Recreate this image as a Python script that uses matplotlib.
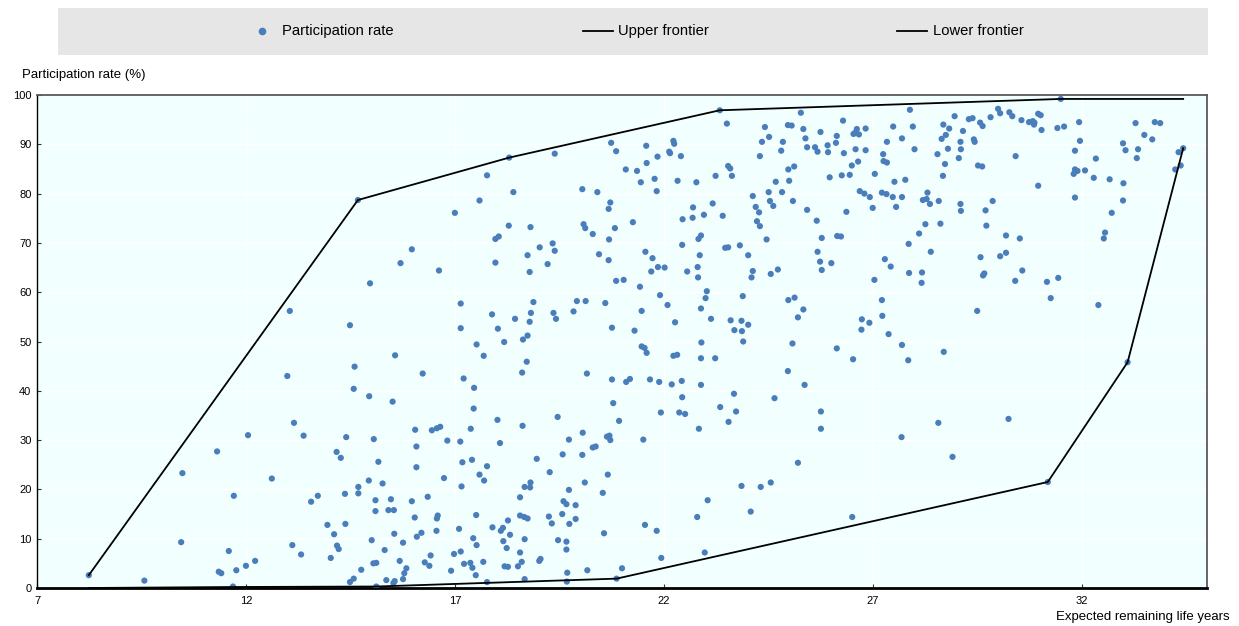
import matplotlib
matplotlib.use("Agg")
import matplotlib.pyplot as plt
from matplotlib.lines import Line2D
from matplotlib.patches import Rectangle

plt.rcParams['font.family'] = ['Liberation Sans', 'DejaVu Sans']

# ---------------- data ----------------
points = [
    (15.97,68.7),(15.70,65.9),(14.97,61.8),(13.05,56.2),(14.49,53.3),(14.68,78.7),
    (18.3,87.3),(19.39,88.1),(20.74,90.3),(20.86,88.6),(21.09,84.9),(17.77,83.7),(18.40,80.3),(20.05,80.9),
    (20.41,80.3),(17.59,78.6),(20.72,78.2),(20.68,76.9),(17.0,76.1),(18.29,73.5),(18.81,73.2),(20.08,73.8),
    (20.12,73.0),(20.83,73.0),(20.30,71.8),(18.05,71.3),(17.97,70.8),(20.69,70.7),(19.34,69.9),(19.03,69.1),
    (19.39,68.4),(18.74,67.5),(20.45,67.7),(20.68,66.5),(17.97,66.0),(19.22,65.7),(18.79,64.1),(16.62,64.4),
    (20.86,62.3),(21.04,62.5),(17.14,57.7),(18.88,58.0),(19.92,58.2),(20.13,58.2),(20.60,57.8),(17.89,55.5),
    (18.82,55.8),(19.36,55.8),(19.84,56.1),(18.44,54.6),(19.42,54.6),(18.79,54.0),(17.14,52.7),(18.03,52.6),
    (20.76,52.8),(18.74,51.2),(18.63,50.4),(18.18,49.9),(17.52,49.4),
    (17.69,47.1),(18.72,45.9),(18.61,43.7),(20.16,43.5),(17.21,42.5),(20.76,42.3),(21.10,41.8),(17.46,40.6),
    (20.79,37.5),(17.45,36.4),(19.46,34.7),(18.02,34.1),(20.93,33.9),(18.62,32.9),(16.45,32.0),(16.57,32.4),
    (16.65,32.7),(17.38,32.3),(20.06,31.5),(19.73,30.1),(20.64,30.7),(20.70,30.9),(20.72,30.0),(16.82,29.9),
    (17.13,29.7),(18.08,29.4),(20.30,28.5),(20.37,28.7),(19.58,27.1),(20.05,27.0),(18.96,26.2),(17.18,25.5),
    (17.41,26.0),(17.77,24.7),(19.27,23.5),(17.59,23.0),(20.66,23.0),(16.74,22.3),(17.70,21.8),(20.11,21.4),
    (17.16,20.6),(18.67,20.5),(18.80,20.4),(18.81,21.4),(19.73,19.9),(20.54,19.3),(16.35,18.5),(18.56,18.4),
    (19.60,17.6),(19.67,17.0),(19.89,16.8),(16.59,14.7),(16.57,14.1),(17.51,14.8),(18.56,14.7),(18.66,14.4),
    (18.74,14.1),(19.25,14.5),(19.57,15.0),(19.32,13.1),(19.89,14.0),(19.74,13.0),(18.27,13.7),(17.90,12.3),
    (18.15,12.2),(18.10,11.6),(18.32,10.8),(17.10,12.0),(16.56,11.6),(20.57,11.1),(17.44,10.1),(18.16,9.5),
    (18.67,9.9),(19.47,9.7),(19.67,9.4),(19.67,7.8),(17.52,8.7),(18.24,8.1),(16.42,6.6),(16.98,6.9),
    (17.14,7.4),(18.56,7.2),(16.39,4.5),(17.22,4.9),(17.37,5.1),(17.42,4.1),(17.68,5.3),(18.19,4.4),
    (18.27,4.3),(18.51,4.4),(18.60,5.3),(19.02,5.5),(19.05,5.9),(16.91,3.5),(17.50,2.6),(17.77,1.2),
    (18.67,1.8),(19.69,3.1),(19.68,1.3),(20.17,3.6),(20.87,1.9),(21.0,4.0),
    (23.34,96.9),(23.51,94.2),(25.28,96.4),(24.42,93.5),(24.97,93.9),(25.06,93.8),(25.34,93.1),(25.75,92.5),
    (24.52,91.5),(25.39,91.2),(22.23,90.7),(22.25,90.1),(24.35,90.5),(24.85,90.5),(21.58,89.7),(25.43,89.4),
    (25.62,89.4),(25.68,88.5),(22.13,88.5),(22.15,88.2),(24.81,88.7),(21.85,87.5),(22.41,87.6),(24.30,87.6),
    (21.59,86.2),(21.36,84.6),(23.54,85.6),(23.59,85.1),(23.63,83.6),(24.98,84.9),(25.12,85.5),(21.78,83.0),
    (21.45,82.3),(22.33,82.6),(22.78,82.3),(23.24,83.6),(24.68,82.4),(25.0,82.6),(21.83,80.5),(24.51,80.3),
    (24.83,80.3),(24.13,79.5),(24.54,78.5),(24.62,77.5),(25.09,78.5),(23.17,78.0),(22.70,77.2),(24.20,77.3),
    (24.28,76.2),(25.43,76.7),(22.96,75.7),(23.41,75.5),(22.45,74.8),(22.69,75.1),(21.26,74.2),(24.23,74.4),
    (24.30,73.4),(25.66,74.5),(22.89,71.5),(22.83,70.8),(24.46,70.7),(25.78,71.0),(22.44,69.6),(23.47,69.0),
    (23.54,69.1),(23.82,69.5),(21.56,68.2),(25.68,68.2),(22.86,67.5),(24.02,67.5),(21.73,66.9),(21.86,65.1),
    (22.02,65.0),(21.70,64.2),(22.56,64.2),(22.81,65.1),(22.82,63.0),(24.13,64.3),(24.10,63.0),(24.56,63.7),
    (24.73,64.6),(25.74,66.2),(25.78,64.5),(21.43,61.1),(23.03,60.2),(23.0,58.8),(23.89,59.2),(21.91,59.4),
    (22.09,57.4),(22.89,56.7),(24.98,58.4),(25.13,58.9),(25.34,56.5),(21.47,56.2),(25.21,54.9),(23.13,54.6),
    (23.60,54.3),(23.86,54.2),(24.02,53.4),(23.69,52.3),(23.87,52.1),(22.27,53.9),(21.30,52.2),(22.90,49.8),
    (23.90,50.0),(25.08,49.6),
    (21.47,49.0),(21.54,48.7),(21.59,47.7),(22.23,47.1),(22.32,47.3),(22.89,46.6),(23.23,46.6),(24.97,44.0),
    (21.19,42.4),(21.67,42.3),(21.89,41.8),(22.19,41.3),(22.43,42.0),(22.89,41.2),(25.37,41.2),(23.68,39.4),
    (22.44,38.7),(24.65,38.5),(23.35,36.7),(21.93,35.6),(22.37,35.6),(22.51,35.3),(23.73,35.8),(23.55,33.7),
    (25.76,35.8),(25.76,32.3),(22.84,32.3),(21.51,30.1),(25.21,25.4),(23.86,20.7),(24.32,20.5),(24.56,21.4),
    (23.05,17.8),(24.08,15.5),(22.80,14.4),(21.55,12.8),(21.83,11.6),(22.98,7.2),(21.94,6.1),
    (27.89,97.0),(26.29,94.8),(27.49,93.6),(27.96,93.6),(26.83,93.2),(26.62,93.1),(26.54,92.1),(26.59,92.4),
    (26.67,92.0),(26.14,91.7),(27.70,91.2),(27.34,90.5),(26.12,90.3),(25.92,89.8),(25.93,88.4),(26.31,88.2),
    (26.59,89.0),(26.83,88.8),(28.0,89.0),(27.25,88.0),(27.26,86.6),(27.34,86.3),(26.65,86.5),(26.50,85.7),
    (25.97,83.3),(26.26,83.7),(26.45,83.8),(27.05,84.0),(27.52,82.4),(27.78,82.8),(26.69,80.5),(26.80,80.0),
    (26.93,79.3),(27.22,80.2),(27.33,79.9),(27.48,79.3),(27.70,79.3),(27.0,77.1),(27.56,77.3),(26.37,76.3),
    (28.31,80.2),(28.20,78.7),(28.29,78.9),(28.37,77.9),(28.58,78.5),(29.10,77.9),(29.11,76.5),(29.87,78.5),
    (29.70,76.6),(29.72,73.5),(28.26,73.8),(28.62,73.9),(28.11,71.9),(30.19,71.5),(26.15,71.4),(26.24,71.3),
    (27.86,69.8),(28.39,68.2),(29.58,67.1),(30.05,67.3),(30.19,68.0),(26.01,65.9),(27.29,66.7),(27.43,65.2),
    (27.87,63.9),(28.18,64.0),(28.17,61.9),(29.64,63.4),(29.67,63.8),(27.04,62.5),(30.41,62.3),(27.22,58.4),
    (27.23,55.2),(26.74,54.5),(26.92,53.8),(26.73,52.4),(27.38,51.5),(29.50,56.2),(27.70,49.3),
    (28.96,95.7),(28.69,94.0),(28.83,93.2),(29.16,92.7),(28.75,91.9),(28.65,91.1),(29.10,90.5),(28.80,89.1),
    (29.11,89.0),(28.55,88.0),(29.06,87.2),(28.73,86.0),(28.68,83.6),(29.30,95.1),(29.39,95.3),(29.57,94.4),
    (29.63,93.7),(29.42,91.0),(29.44,90.5),(29.52,85.7),(29.62,85.5),(29.82,95.5),(30.0,97.2),(30.05,96.3),
    (30.27,96.5),(30.34,95.7),(30.42,87.6),
    (31.5,99.2),(30.56,94.9),(30.74,94.5),(30.83,94.7),(30.86,94.0),(30.87,94.4),(30.96,96.2),(31.02,95.9),
    (31.04,92.9),(31.42,93.3),(31.58,93.6),(31.94,94.5),(31.96,90.7),(31.84,88.7),(32.34,87.1),(31.84,84.9),
    (31.90,84.6),(31.81,84.0),(32.08,84.7),(32.29,83.2),(32.67,82.9),(33.0,82.1),(32.99,90.2),(33.05,88.8),
    (33.35,89.0),(33.32,87.2),(33.29,94.3),(33.50,91.9),(33.69,91.0),(33.75,94.5),(33.88,94.3),(34.43,89.2),
    (34.32,88.4),(34.37,85.7),(34.24,84.9),(30.96,81.6),(31.84,79.2),(32.99,78.6),(32.72,76.1),(32.56,72.1),
    (32.53,70.9),(30.52,70.9),(30.58,64.4),(31.17,62.1),(31.44,62.9),(31.26,58.8),(32.40,57.4),
    (26.14,48.6),(26.53,46.4),(27.85,46.2),(28.70,47.9),(27.69,30.6),(28.57,33.5),(30.25,34.3),(28.91,26.6),
    (26.51,14.4),(31.19,21.5),(33.1,45.8),
    (8.24,2.6),(9.57,1.5),(10.45,9.3),(10.48,23.3),(11.31,27.7),(11.71,18.7),(11.59,7.5),(11.35,3.3),
    (11.41,3.0),(11.77,3.6),(11.69,0.3),
    (15.57,47.2),(14.60,44.9),(12.99,43.0),(16.23,43.5),(14.58,40.4),(14.95,38.9),(15.51,37.8),(13.15,33.5),
    (12.05,31.0),(13.38,30.9),(14.40,30.6),(15.06,30.2),(16.05,32.1),(16.08,28.7),(14.17,27.6),(14.27,26.4),
    (15.17,25.6),(16.08,24.5),(12.62,22.2),(14.94,21.8),(15.27,21.2),(14.69,20.5),(14.69,19.2),(14.37,19.1),
    (13.72,18.7),(13.56,17.5),(15.10,17.8),(15.10,15.6),(15.47,18.0),(15.41,15.8),(15.54,15.8),(15.97,17.6),
    (16.04,14.3),(13.95,12.8),(14.38,13.0),(14.11,10.9),(15.55,11.0),(16.20,11.2),(16.09,10.4),(13.11,8.7),
    (14.18,8.6),(14.22,7.9),(15.01,9.7),(15.76,9.2),(13.32,6.8),(14.03,6.1),(15.32,7.7),(12.22,5.5),
    (12.0,4.5),(15.05,5.0),(15.12,5.1),(15.68,5.5),(16.28,5.2),(14.76,3.7),(15.84,4.0),(15.79,3.0),
    (15.76,1.8),(14.49,1.2),(14.58,1.9),(15.36,1.6),(15.53,1.0),(15.56,1.4),(15.12,0.3),
]
life_years = [p[0] for p in points]
participation = [p[1] for p in points]

upper_x = [8.24, 14.68, 18.3, 23.34, 31.5, 34.43]
upper_y = [2.6, 78.7, 87.3, 96.9, 99.2, 99.2]
lower_x = [8.24, 11.69, 15.12, 20.87, 31.19, 33.1, 34.43]
lower_y = [0.0, 0.2, 0.3, 1.9, 21.5, 45.8, 89.2]

x_ticks = [7, 12, 17, 22, 27, 32]
y_ticks = [0, 10, 20, 30, 40, 50, 60, 70, 80, 90, 100]

# ---------------- figure ----------------
W, H = 1239, 626
fig = plt.figure(figsize=(W / 100, H / 100), dpi=100)
ax = fig.add_axes([37 / W, 1 - 588 / H, (1207 - 37) / W, (588 - 95) / H])

blue = '#4a7ebb'
ax.set_facecolor('#f2ffff')
ax.scatter(life_years, participation, s=20, color=blue, edgecolors='none', zorder=3)
ax.plot(upper_x, upper_y, color='black', lw=1.3, zorder=4)
ax.plot(lower_x, lower_y, color='black', lw=1.3, zorder=4)

ax.set_xlim(7, 35)
ax.set_ylim(0, 100)
ax.set_xticks(x_ticks)
ax.set_yticks(y_ticks)
ax.grid(True, color='white', lw=1.0, zorder=0)
ax.set_axisbelow(True)
ax.tick_params(axis='both', labelsize=8, direction='in', length=3, width=0.8, color='#333333', pad=4)
ax.tick_params(axis='x', pad=6)
for side in ['left', 'bottom']:
    ax.spines[side].set_color('black')
ax.spines['left'].set_linewidth(1.0)
ax.spines['bottom'].set_linewidth(2.0)
for side in ['top', 'right']:
    ax.spines[side].set_color('#595959')
    ax.spines[side].set_linewidth(1.3)

# axis titles
fig.text(22 / W, 1 - 75 / H, 'Participation rate (%)', fontsize=9.5, ha='left', va='center')
fig.text(1230 / W, 1 - 617 / H, 'Expected remaining life years', fontsize=9.5, ha='right', va='center')

# legend band
fig.patches.append(Rectangle((58 / W, 1 - 55 / H), (1208 - 58) / W, 47 / H,
                             transform=fig.transFigure, facecolor='#e6e6e6', edgecolor='none', zorder=0))
ly = 1 - 31 / H
fig.lines.append(Line2D([262 / W], [ly], marker='o', markersize=5.5, color=blue, lw=0,
                        markeredgecolor='none', transform=fig.transFigure))
fig.text(282 / W, ly, 'Participation rate', fontsize=10.6, ha='left', va='center')
fig.lines.append(Line2D([583 / W, 613 / W], [ly, ly], color='black', lw=1.3, transform=fig.transFigure))
fig.text(618 / W, ly, 'Upper frontier', fontsize=10.6, ha='left', va='center')
fig.lines.append(Line2D([897 / W, 927 / W], [ly, ly], color='black', lw=1.3, transform=fig.transFigure))
fig.text(933 / W, ly, 'Lower frontier', fontsize=10.6, ha='left', va='center')

fig.savefig('out.png', dpi=100)
